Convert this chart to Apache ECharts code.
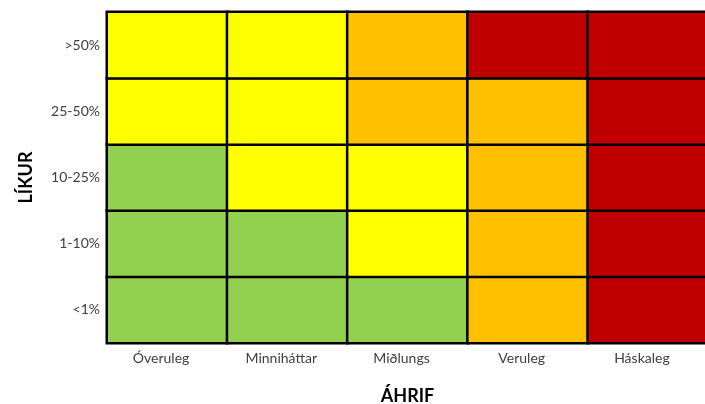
<!DOCTYPE html>
<html>
<head>
<meta charset="utf-8">
<script src="https://cdn.jsdelivr.net/npm/echarts@6/dist/echarts.min.js"></script>
<style>html,body{margin:0;padding:0;background:#fff;}#c{width:705px;height:404px;}</style>
</head>
<body>
<div id="c"></div>
<script>
var impactCategories = ['Óveruleg', 'Minniháttar', 'Miðlungs', 'Veruleg', 'Háskaleg'];
var likelihoodCategories = ['<1%', '1-10%', '10-25%', '25-50%', '>50%'];
// risk level per cell, rows from bottom (<1%) to top (>50%); 1=green,2=yellow,3=orange,4=red
var rowLt1 = [1, 1, 1, 3, 4];
var row1to10 = [1, 1, 2, 3, 4];
var row10to25 = [1, 2, 2, 3, 4];
var row25to50 = [2, 2, 3, 3, 4];
var rowGt50 = [2, 2, 3, 4, 4];
var rows = [rowLt1, row1to10, row10to25, row25to50, rowGt50];

var data = [];
rows.forEach(function (r, yi) {
  r.forEach(function (v, xi) { data.push([xi, yi, v]); });
});

var chart = echarts.init(document.getElementById('c'), null, {renderer: 'canvas'});
chart.setOption({
  animation: false,
  grid: {left: 107, top: 12, width: 601, height: 331, containLabel: false, outerBoundsMode: 'none'},
  xAxis: {
    type: 'category',
    data: impactCategories,
    name: 'ÁHRIF',
    nameLocation: 'middle',
    nameGap: 44,
    nameTextStyle: {fontFamily: 'Lato', fontWeight: 'bold', fontSize: 18, color: '#000'},
    axisLine: {show: true, lineStyle: {color: '#999', width: 1}},
    axisTick: {show: false},
    splitLine: {show: false},
    axisLabel: {fontFamily: 'Lato', fontSize: 14, color: '#404040', margin: 8, padding: [0, 12, 0, 0]}
  },
  yAxis: {
    type: 'category',
    data: likelihoodCategories,
    name: 'LÍKUR',
    nameLocation: 'middle',
    nameGap: 72,
    nameRotate: 90,
    nameTextStyle: {fontFamily: 'Lato', fontWeight: 'bold', fontSize: 18, color: '#000'},
    axisLine: {show: true, lineStyle: {color: '#999', width: 1}},
    axisTick: {show: false},
    splitLine: {show: false},
    axisLabel: {fontFamily: 'Lato', fontSize: 14, color: '#404040', margin: 7}
  },
  visualMap: {
    type: 'piecewise',
    show: false,
    dimension: 2,
    pieces: [
      {value: 1, color: '#92D050'},
      {value: 2, color: '#FFFF00'},
      {value: 3, color: '#FFC000'},
      {value: 4, color: '#C00000'}
    ]
  },
  series: [{
    type: 'heatmap',
    data: data,
    itemStyle: {borderColor: '#000', borderWidth: 2.5},
    label: {show: false},
    emphasis: {disabled: true}
  }]
});
</script>
</body>
</html>
